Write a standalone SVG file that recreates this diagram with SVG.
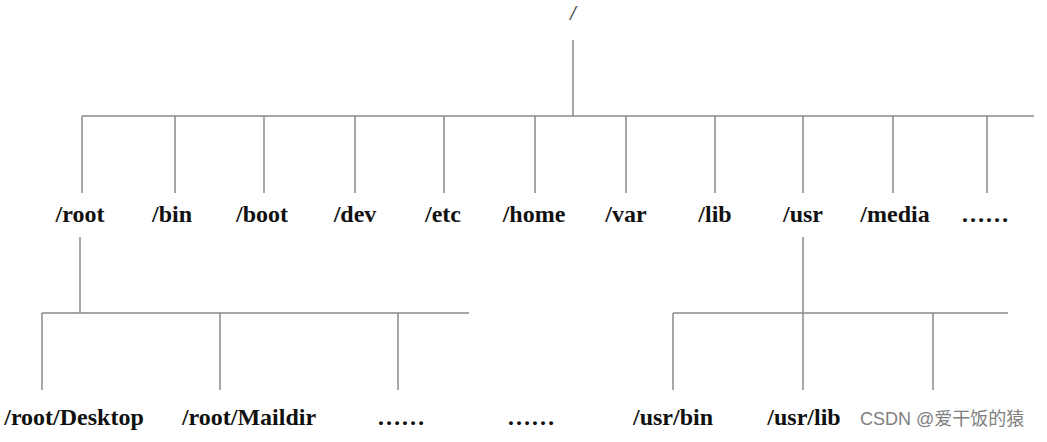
<svg xmlns="http://www.w3.org/2000/svg" width="1047" height="442" viewBox="0 0 1047 442">
<style>
.ln{stroke:#8a8a8a;stroke-width:1.5;fill:none}
.lb{font-family:"Liberation Serif","Times New Roman",serif;font-weight:bold;font-size:24px;fill:#111;text-anchor:middle}
.wm{font-family:"Liberation Sans","Noto Sans CJK SC",sans-serif;font-size:18px;fill:#808080}
</style>
<rect width="1047" height="442" fill="#fff"/>
<g id="connectors">
<path class="ln" d="M573 40V116M82 116H1034M82 116V193M175 116V193M264 116V193M355 116V193M444 116V193M535 116V193M626 116V193M715 116V193M803 116V193M893 116V193M987 116V193"/>
<path class="ln" d="M80 237V313M42 313H469M42 313V390M220 313V390M398 313V390"/>
<path class="ln" d="M803 237V313M673 313H1008M673 313V390M803 313V390M933 313V390"/>
</g>
<g id="n-rootdir"><text x="573" y="20" style="font-family:'Liberation Serif',serif;font-style:italic;font-weight:bold;font-size:20px;fill:#444;text-anchor:middle">/</text></g>
<g id="n-root"><text class="lb" x="80" y="222">/root</text></g>
<g id="n-bin"><text class="lb" x="172" y="222">/bin</text></g>
<g id="n-boot"><text class="lb" x="262" y="222">/boot</text></g>
<g id="n-dev"><text class="lb" x="355" y="222">/dev</text></g>
<g id="n-etc"><text class="lb" x="443" y="222">/etc</text></g>
<g id="n-home"><text class="lb" x="534" y="222">/home</text></g>
<g id="n-var"><text class="lb" x="626" y="222">/var</text></g>
<g id="n-lib"><text class="lb" x="715" y="222">/lib</text></g>
<g id="n-usr"><text class="lb" x="803" y="222">/usr</text></g>
<g id="n-media"><text class="lb" x="895" y="222">/media</text></g>
<g id="n-more1"><text class="lb" x="985" y="222">……</text></g>
<g id="n-desktop"><text class="lb" x="74" y="425">/root/Desktop</text></g>
<g id="n-maildir"><text class="lb" x="249" y="425">/root/Maildir</text></g>
<g id="n-more2"><text class="lb" x="401" y="425">……</text></g>
<g id="n-more3"><text class="lb" x="531" y="425">……</text></g>
<g id="n-usrbin"><text class="lb" x="673" y="425">/usr/bin</text></g>
<g id="n-usrlib"><text class="lb" x="804" y="425">/usr/lib</text></g>
<text class="wm" x="860" y="425">CSDN @爱干饭的猿</text>
</svg>
